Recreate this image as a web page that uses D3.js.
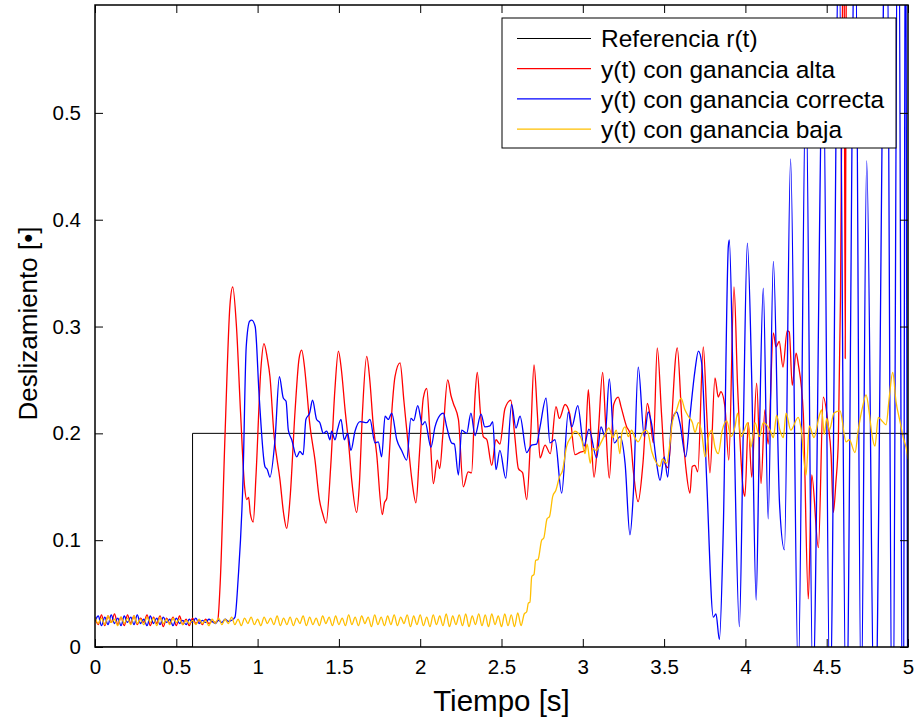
<!DOCTYPE html>
<html><head><meta charset="utf-8">
<script src="https://cdn.jsdelivr.net/npm/d3@7"></script>
<style>
html,body{margin:0;padding:0;background:#fff;}
svg{display:block;font-family:"Liberation Sans",Arial,Helvetica,sans-serif;}
</style></head>
<body><svg id="chart" width="916" height="719"></svg>
<script>
// ---------------- DATA ----------------
const xTicks = [0, 0.5, 1, 1.5, 2, 2.5, 3, 3.5, 4, 4.5, 5];
const xTickLabels = ["0","0.5","1","1.5","2","2.5","3","3.5","4","4.5","5"];
const yTicks = [0, 0.1, 0.2, 0.3, 0.4, 0.5];
const yTickLabels = ["0","0.1","0.2","0.3","0.4","0.5"];
const legendLabels = ["Referencia r(t)","y(t) con ganancia alta","y(t) con ganancia correcta","y(t) con ganancia baja"];

// reference step r(t)
const reference = [[0,0],[0.6,0],[0.6,0.2],[5,0.2]];

// sampled sensor noise before the response (sample period 0.02 s)
const noiseStep = 0.02;
const redNoise = [.027,.021,.030,.020,.029,.023,.031,.021,.028,.020,.030,.022,.029,.021,.027,.023,.030,.020,.028,.022,
  .029,.019,.027,.022,.028,.020,.029,.021,.026,.020,.027,.022,.025,.021,.026,.022,.024,.023];
const blueNoise = [.024,.029,.020,.028,.021,.030,.022,.027,.020,.029,.023,.028,.021,.030,.022,.026,.020,.029,.022,.027,
  .021,.028,.023,.026,.020,.027,.022,.025,.021,.026,.023,.027,.022,.025,.023,.026,.024,.022,.025,.023,.026,.024,.025];
const yellowNoise = [
  .028,.022,.027,.021,.029,.023,.026,.020,.028,.022,.027,.021,.029,.022,.026,.021,.028,.023,.027,.020,.028,.022,.026,.021,.027,.023,.026,.021,.025,.022,
  .025,.021,.026,.022,.025,.020,.026,.022,.027,.021,.026,.022,.028,.021,.026,.020,.027,.022,.028,.021,.026,.020,.028,.022,.027,.021,.029,.020,.027,.021,
  .028,.020,.027,.022,.029,.020,.028,.021,.027,.020,.029,.022,.028,.020,.029,.021,.027,.020,.030,.021,.028,.020,.029,.022,.028,.019,.030,.021,.028,.020,
  .029,.021,.030,.020,.028,.022,.030,.019,.029,.021,.030,.020,.028,.019,.030,.021,.029,.020,.031,.019,.029,.021,.030,.020,.031,.019,.029,.021,.031,.020,
  .030,.019,.031,.021,.029,.019,.031,.020,.030,.019,.032,.020,.031];

// y(t) high gain (after noise segment) [t, value]
const redResponse = [[0.755,.025],[0.77,.06],[0.80,.20],[0.83,.32],[0.847,.337],[0.87,.30],[0.895,.22],[0.92,.15],[0.933,.138],
  [0.945,.140],[0.955,.125],[0.973,.117],[0.99,.16],[1.02,.26],[1.039,.284],[1.06,.27],[1.076,.253],[1.10,.20],[1.138,.156],
  [1.16,.125],[1.179,.111],[1.2,.14],[1.23,.22],[1.255,.27],[1.271,.278],[1.29,.26],[1.302,.241],[1.32,.21],[1.353,.175],
  [1.38,.138],[1.40,.125],[1.421,.116],[1.45,.17],[1.475,.24],[1.497,.277],[1.515,.26],[1.538,.222],[1.56,.19],[1.579,.156],
  [1.609,.126],[1.625,.15],[1.645,.22],[1.671,.272],[1.69,.25],[1.71,.21],[1.732,.181],[1.767,.124],[1.78,.135],[1.794,.139],
  [1.81,.18],[1.83,.23],[1.845,.253],[1.876,.266],[1.90,.23],[1.927,.188],[1.95,.155],[1.974,.135],[1.995,.18],[2.019,.233],
  [2.040,.242],[2.06,.20],[2.081,.153],[2.105,.175],[2.12,.167],[2.14,.20],[2.169,.250],[2.19,.235],[2.204,.228],[2.235,.213],
  [2.265,.150],[2.295,.164],[2.316,.163],[2.337,.234],[2.351,.257],[2.37,.22],[2.388,.197],[2.41,.194],[2.44,.170],[2.466,.194],
  [2.49,.190],[2.521,.223],[2.557,.231],[2.58,.20],[2.604,.167],[2.63,.163],[2.655,.138],[2.68,.20],[2.700,.264],[2.72,.22],
  [2.737,.177],[2.768,.189],[2.80,.181],[2.835,.225],[2.856,.214],[2.891,.227],[2.92,.218],[2.952,.180],[2.98,.182],[3.013,.184],
  [3.034,.241],[3.05,.20],[3.069,.159],[3.095,.200],[3.122,.257],[3.14,.21],[3.163,.158],[3.19,.227],[3.218,.234],[3.235,.225],
  [3.27,.206],[3.29,.20],[3.31,.166],[3.340,.136],[3.37,.172],[3.397,.228],[3.41,.22],[3.434,.191],[3.458,.280],[3.485,.216],
  [3.505,.172],[3.522,.168],[3.581,.280],[3.608,.216],[3.633,.169],[3.659,.144],[3.673,.169],[3.69,.170],[3.707,.164],[3.741,.281],
  [3.762,.219],[3.782,.163],[3.813,.252],[3.833,.234],[3.849,.239],[3.874,.225],[3.898,.175],[3.930,.337],[3.952,.244],[3.987,.147],
  [3.997,.141],[4.018,.210],[4.039,.159],[4.069,.247],[4.096,.153],[4.12,.222],[4.14,.19],[4.172,.294],[4.188,.281],[4.208,.286],
  [4.231,.262],[4.257,.296],[4.27,.295],[4.288,.245],[4.312,.275],[4.325,.265],[4.356,.219],[4.387,.045],[4.408,.161],[4.449,.093],
  [4.479,.234],[4.51,.207],[4.527,.180],[4.541,.126],[4.556,.153],[4.572,.196],[4.585,.33],[4.598,.62],[4.606,.70],[4.614,.27],
  [4.622,.75],[4.64,1.0]];

// y(t) correct gain (after noise segment)
const blueResponse = [[0.861,.028],[0.88,.063],[0.91,.156],[0.93,.281],[0.951,.305],[0.964,.306],[0.985,.30],[1.01,.234],[1.045,.169],
  [1.06,.166],[1.076,.159],[1.107,.194],[1.134,.253],[1.158,.233],[1.175,.230],[1.189,.203],[1.21,.194],[1.24,.178],[1.26,.183],
  [1.28,.180],[1.297,.213],[1.32,.219],[1.338,.231],[1.363,.213],[1.383,.210],[1.404,.200],[1.425,.202],[1.445,.194],[1.455,.202],
  [1.476,.194],[1.492,.204],[1.513,.213],[1.533,.194],[1.554,.200],[1.574,.184],[1.599,.202],[1.630,.211],[1.671,.210],[1.691,.213],
  [1.722,.191],[1.742,.192],[1.763,.178],[1.784,.216],[1.804,.213],[1.825,.219],[1.856,.194],[1.886,.184],[1.917,.175],[1.943,.214],
  [1.96,.212],[1.985,.226],[2.013,.208],[2.03,.211],[2.066,.187],[2.091,.206],[2.122,.217],[2.142,.219],[2.163,.206],[2.193,.191],
  [2.21,.19],[2.235,.161],[2.255,.203],[2.286,.200],[2.312,.219],[2.337,.198],[2.374,.218],[2.398,.206],[2.429,.207],[2.446,.211],
  [2.466,.166],[2.49,.184],[2.526,.158],[2.562,.227],[2.589,.205],[2.614,.216],[2.655,.182],[2.685,.189],[2.716,.190],[2.737,.206],
  [2.774,.233],[2.798,.191],[2.829,.194],[2.870,.144],[2.911,.220],[2.932,.206],[2.969,.226],[3.007,.188],[3.038,.204],[3.085,.177],
  [3.112,.206],[3.137,.197],[3.163,.251],[3.194,.191],[3.229,.197],[3.260,.172],[3.290,.105],[3.311,.144],[3.341,.262],[3.378,.197],
  [3.402,.220],[3.423,.209],[3.454,.172],[3.475,.156],[3.501,.178],[3.522,.159],[3.546,.210],[3.577,.220],[3.598,.209],[3.633,.178],
  [3.659,.216],[3.690,.259],[3.711,.277],[3.731,.266],[3.762,.156],[3.803,.028],[3.819,.031],[3.840,.007],[3.864,.110],[3.895,.375],
  [3.901,.381],[3.926,.235],[3.963,.019],[3.987,.203],[4.012,.378],[4.039,.250],[4.066,.044],[4.085,.188],[4.110,.336],[4.14,.12],
  [4.172,.361],[4.21,.134],[4.24,.091],[4.278,.457],[4.325,-.03],[4.372,.53],[4.415,-.04],[4.478,.56],[4.52,-.06],[4.575,.66],
  [4.62,-.08],[4.675,.70],[4.712,-.06],[4.746,.455],[4.795,-.10],[4.868,.75],[4.905,-.15],[4.94,.8],[4.97,-.2],[4.985,.8],[5.0,-.2]];

// y(t) low gain (after noise segment)
const yellowResponse = [[2.655,.033],[2.665,.041],[2.675,.042],[2.686,.066],[2.70,.068],[2.71,.081],[2.725,.082],[2.747,.100],
  [2.76,.102],[2.78,.120],[2.795,.122],[2.815,.141],[2.835,.147],[2.856,.159],[2.875,.165],[2.901,.188],[2.93,.197],[2.952,.202],
  [2.972,.200],[2.993,.194],[3.013,.181],[3.027,.190],[3.046,.172],[3.062,.186],[3.083,.184],[3.114,.192],[3.140,.200],[3.160,.205],
  [3.185,.196],[3.206,.203],[3.228,.181],[3.24,.200],[3.26,.206],[3.28,.197],[3.30,.203],[3.32,.196],[3.34,.192],[3.37,.201],
  [3.39,.203],[3.40,.201],[3.424,.183],[3.454,.172],[3.475,.169],[3.49,.176],[3.516,.172],[3.536,.191],[3.55,.210],[3.577,.222],
  [3.604,.233],[3.628,.222],[3.649,.216],[3.674,.210],[3.690,.201],[3.711,.210],[3.731,.201],[3.752,.178],[3.772,.196],[3.793,.203],
  [3.813,.187],[3.833,.181],[3.858,.203],[3.885,.212],[3.911,.197],[3.936,.206],[3.952,.219],[3.973,.197],[3.993,.203],[4.014,.210],
  [4.034,.187],[4.059,.210],[4.086,.197],[4.110,.210],[4.151,.203],[4.172,.196],[4.192,.217],[4.212,.203],[4.233,.196],[4.250,.219],
  [4.279,.203],[4.325,.215],[4.342,.205],[4.373,.161],[4.393,.207],[4.422,.196],[4.455,.217],[4.469,.222],[4.485,.199],[4.500,.214],
  [4.516,.203],[4.545,.219],[4.582,.221],[4.619,.192],[4.639,.194],[4.674,.182],[4.694,.203],[4.721,.225],[4.742,.236],[4.762,.219],
  [4.777,.200],[4.797,.188],[4.817,.215],[4.844,.211],[4.865,.208],[4.885,.234],[4.906,.257],[4.926,.230],[4.951,.211],[4.971,.196],
  [4.992,.184],[5.0,.176]];

// ---------------- CHART ----------------
const W = 916, H = 719;
const margin = {left: 95, top: 5, right: 8, bottom: 72};
const svg = d3.select("#chart");
const x = d3.scaleLinear().domain([0, 5]).range([margin.left, W - margin.right]);
const y = d3.scaleLinear().domain([0, 0.601]).range([H - margin.bottom, margin.top]);

const withNoise = (noise, resp) => noise.map((v, i) => [i * noiseStep, v]).concat(resp);
const series = [
  {data: reference, color: "#000000", curve: d3.curveLinear, w: 1},
  {data: withNoise(redNoise, redResponse), color: "#ff0000", curve: d3.curveMonotoneX, w: 1.3},
  {data: withNoise(blueNoise, blueResponse), color: "#0000ff", curve: d3.curveMonotoneX, w: 1.3},
  {data: withNoise(yellowNoise, yellowResponse), color: "#ffbf00", curve: d3.curveMonotoneX, w: 1.3}
];

svg.append("defs").append("clipPath").attr("id", "plotclip").append("rect")
  .attr("x", x(0)).attr("y", y(0.601)).attr("width", x(5) - x(0)).attr("height", y(0) - y(0.601));

const g = svg.append("g").attr("clip-path", "url(#plotclip)");
series.forEach(s => {
  g.append("path").datum(s.data)
    .attr("fill", "none").attr("stroke", s.color).attr("stroke-width", s.w)
    .attr("stroke-linejoin", "round")
    .attr("d", d3.line().x(d => x(d[0])).y(d => y(d[1])).curve(s.curve));
});

// axes (MATLAB-style inward ticks on all four sides)
const tickLen = 8;
const axBottom = d3.axisBottom(x).tickValues(xTicks).tickFormat((d, i) => xTickLabels[i]).tickSizeInner(-tickLen).tickSizeOuter(0).tickPadding(12);
const axTop = d3.axisTop(x).tickValues(xTicks).tickFormat("").tickSizeInner(-tickLen).tickSizeOuter(0);
const axLeft = d3.axisLeft(y).tickValues(yTicks).tickFormat((d, i) => yTickLabels[i]).tickSizeInner(-tickLen).tickSizeOuter(0).tickPadding(14);
const axRight = d3.axisRight(y).tickValues(yTicks).tickFormat("").tickSizeInner(-tickLen).tickSizeOuter(0);

function styleAxis(sel) {
  sel.select(".domain").remove();
  sel.selectAll(".tick line").attr("stroke", "#000").attr("stroke-width", 1);
  sel.selectAll(".tick text").attr("fill", "#000").attr("font-size", 20.5)
    .attr("font-family", "'Liberation Sans', Arial, sans-serif");
}
svg.append("g").attr("transform", `translate(0,${y(0)})`).call(axBottom).call(styleAxis);
svg.append("g").attr("transform", `translate(0,${y(0.601)})`).call(axTop).call(styleAxis);
svg.append("g").attr("transform", `translate(${x(0)},0)`).call(axLeft).call(styleAxis);
svg.append("g").attr("transform", `translate(${x(5)},0)`).call(axRight).call(styleAxis);

// frame box
svg.append("rect").attr("x", x(0)).attr("y", y(0.601)).attr("width", x(5) - x(0)).attr("height", y(0) - y(0.601))
  .attr("fill", "none").attr("stroke", "#000").attr("stroke-width", 1.5);

// axis labels
svg.append("text").attr("x", (x(0) + x(5)) / 2).attr("y", 711).attr("text-anchor", "middle")
  .attr("font-size", 29.5).attr("fill", "#000").text("Tiempo [s]");
svg.append("text").attr("transform", `translate(37,323.5) rotate(-90)`).attr("text-anchor", "middle")
  .attr("font-size", 26).attr("fill", "#000").text("Deslizamiento [•]");

// legend
const lg = svg.append("g");
lg.append("rect").attr("x", 502).attr("y", 18).attr("width", 394).attr("height", 130)
  .attr("fill", "#fff").attr("stroke", "#000").attr("stroke-width", 1);
const legendColors = series.map(s => s.color);
legendLabels.forEach((lab, i) => {
  const cy = 38.5 + i * 30.2;
  lg.append("line").attr("x1", 517).attr("x2", 591).attr("y1", cy).attr("y2", cy)
    .attr("stroke", legendColors[i]).attr("stroke-width", 1.2);
  lg.append("text").attr("x", 601).attr("y", cy + 8.8).attr("font-size", 24.5).attr("fill", "#000").text(lab);
});
</script></body></html>
